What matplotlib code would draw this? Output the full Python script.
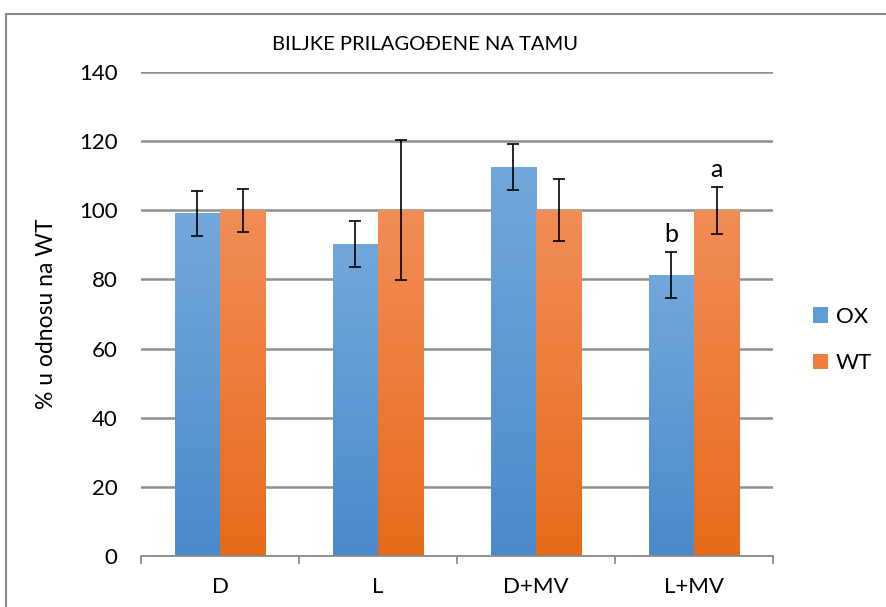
import numpy as np
import matplotlib.pyplot as plt
from matplotlib.colors import LinearSegmentedColormap
from matplotlib.patches import Patch, Rectangle

plt.rcParams['font.family'] = ['Lato', 'DejaVu Sans']

categories = ['D', 'L', 'D+MV', 'L+MV']
ox_values = [99.1, 90.3, 112.5, 81.3]
wt_values = [100, 100, 100, 100]
ox_err = [6.6, 6.6, 6.6, 6.7]
wt_err = [6.2, 20.2, 9.0, 6.8]
letters_ox = ['', '', '', 'b']
letters_wt = ['', '', '', 'a']

blue_grad = LinearSegmentedColormap.from_list('b', ['#4a8acb', '#72a7dc'])
orange_grad = LinearSegmentedColormap.from_list('o', ['#e66b1a', '#f28d57'])

fig = plt.figure(figsize=(8.86, 6.07), dpi=100)
ax = fig.add_axes([141 / 886, 1 - 556 / 607, 632 / 886, 484 / 607])

# rámec okolo grafu
fig.patches.append(Rectangle((6 / 886, -0.05), 1.2, 1 - 14 / 607 + 0.05,
                             transform=fig.transFigure, fill=False,
                             edgecolor='#8a8a8a', lw=1.5))

x = np.arange(len(categories))
w = 1 / 3.5


def gradient_bars(xpos, vals, cmap):
    bars = ax.bar(xpos, vals, w, color='none', edgecolor='none', zorder=2)
    grad = np.linspace(0, 1, 256).reshape(-1, 1)
    for b in bars:
        x0, y0 = b.get_x(), b.get_y()
        im = ax.imshow(grad, cmap=cmap, origin='lower', aspect='auto',
                       extent=[x0, x0 + b.get_width(), y0, y0 + b.get_height()],
                       zorder=2)
        im.set_clip_path(b)
    return bars


gradient_bars(x - w / 2, ox_values, blue_grad)
gradient_bars(x + w / 2, wt_values, orange_grad)

ax.errorbar(x - w / 2, ox_values, yerr=ox_err, fmt='none', ecolor='black',
            elinewidth=1.2, capsize=4.6, capthick=1.2, zorder=3)
ax.errorbar(x + w / 2, wt_values, yerr=wt_err, fmt='none', ecolor='black',
            elinewidth=1.2, capsize=4.6, capthick=1.2, zorder=3)

for i in range(len(categories)):
    if letters_ox[i]:
        ax.text(x[i] - w / 2, ox_values[i] + ox_err[i] + 1.8, letters_ox[i],
                ha='center', va='bottom', fontsize=18)
    if letters_wt[i]:
        ax.text(x[i] + w / 2, wt_values[i] + wt_err[i] + 1.8, letters_wt[i],
                ha='center', va='bottom', fontsize=18)

ax.set_xlim(-0.5, len(categories) - 0.5)
ax.set_ylim(0, 140)
ax.set_yticks(range(0, 141, 20))
ax.tick_params(axis='y', length=0, labelsize=16, pad=17)
ax.set_xticks(x)
ax.set_xticklabels(categories)
ax.tick_params(axis='x', length=0, labelsize=16, pad=15)
ax.set_xticks(np.arange(-0.5, len(categories), 1), minor=True)
ax.tick_params(axis='x', which='minor', length=6, color='#8a8a8a', width=1.3)

ax.yaxis.grid(True, color='#8f8f8f', lw=1.8)
ax.set_axisbelow(True)
for s in ['top', 'right', 'left']:
    ax.spines[s].set_visible(False)
ax.spines['bottom'].set_color('#8a8a8a')
ax.spines['bottom'].set_linewidth(1.3)

ax.set_ylabel('% u odnosu na WT', fontsize=16.5)
ax.yaxis.set_label_coords((57 - 141) / 632, 0.5)

fig.text(425 / 886, 1 - 44 / 607, 'BILJKE PRILAGOĐENE NA TAMU',
         ha='center', va='center', fontsize=14.5)

handles = [Patch(facecolor='#5f9bd6', label='OX'),
           Patch(facecolor='#ef7d3b', label='WT')]
fig.legend(handles=handles, loc='center left',
           bbox_to_anchor=(813 / 886, 1 - 340 / 607), frameon=False,
           fontsize=16, handlelength=0.68, handleheight=0.68,
           handletextpad=0.36, labelspacing=1.2, borderpad=0,
           borderaxespad=0)

fig.savefig('out.png', dpi=100)
